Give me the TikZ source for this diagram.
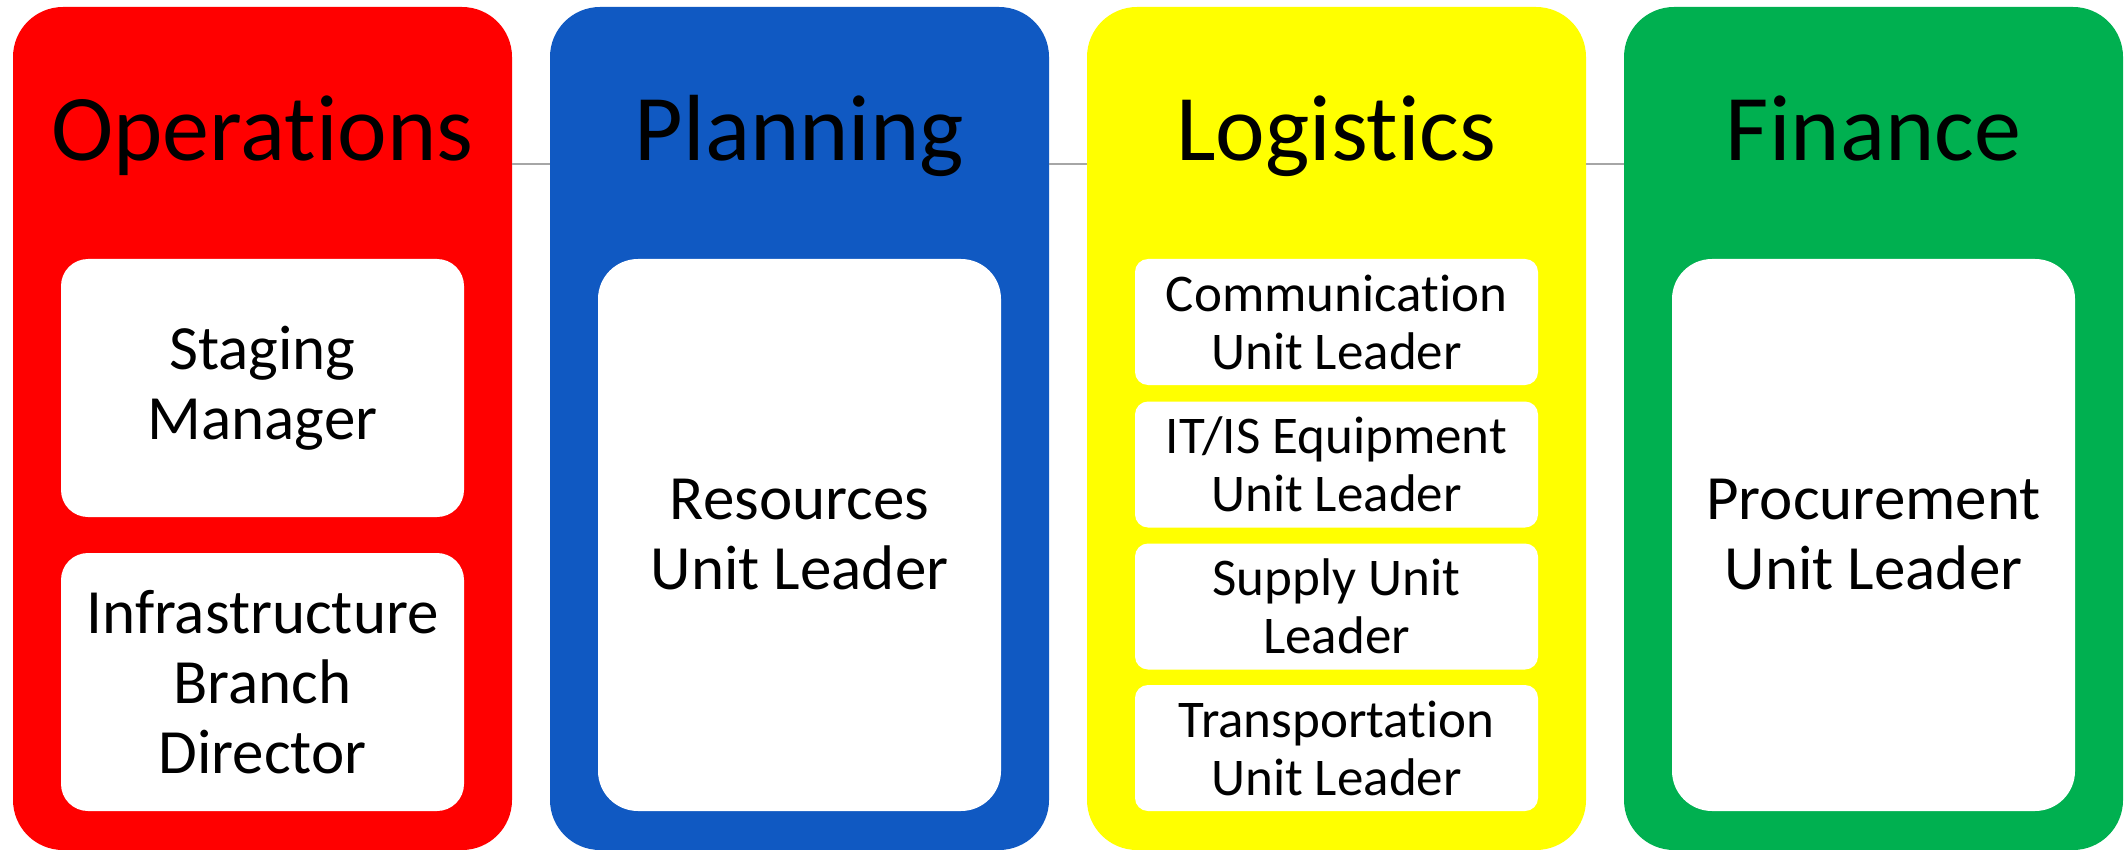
\documentclass[tikz,border=0pt]{standalone}
\usepackage{fontspec}
\setmainfont{Carlito}[Ligatures={NoCommon,NoRequired,NoContextual,NoRare}]
\usetikzlibrary{positioning}

\definecolor{opsred}{RGB}{255,0,0}
\definecolor{planblue}{RGB}{16,89,194}
\definecolor{logyellow}{RGB}{255,255,0}
\definecolor{fingreen}{RGB}{0,176,80}
\definecolor{linkgray}{RGB}{166,166,166}

\tikzset{
  section/.style={rectangle, rounded corners=25pt, minimum width=249.5pt,
    minimum height=421.5pt, inner sep=0pt},
  heading/.style={anchor=base, font=\fontsize{47}{50}\selectfont},
  unit/.style={rectangle, fill=white, align=center, minimum width=201.5pt,
    inner sep=0pt},
  bigunit/.style={unit, font=\fontsize{31.5}{35}\selectfont},
  smallunit/.style={unit, rounded corners=6.5pt, minimum height=63pt,
    font=\fontsize{26.5}{29}\selectfont},
  link/.style={draw=linkgray, line width=1pt}
}

\begin{document}
\begin{tikzpicture}[x=0.5pt, y=-0.5pt]
\useasboundingbox (0,0) rectangle (2124,850);

% sections
\node [section, fill=opsred] (ops) at (262.5,428.5) {};
\node [section, fill=planblue] (plan) at (799.5,428.5) {};
\node [section, fill=logyellow] (log) at (1336.5,428.5) {};
\node [section, fill=fingreen] (fin) at (1873.5,428.5) {};

% headings
\node [heading] (opsHead) at (262.5,161) {Operations};
\node [heading] (planHead) at (799.5,161) {Planning};
\node [heading] (logHead) at (1336.5,161) {Logistics};
\node [heading] (finHead) at (1873.5,161) {Finance};

% links between sections
\coordinate (bar) at (0,164);
\draw [link] (ops.east |- bar) -- (plan.west |- bar);
\draw [link] (plan.east |- bar) -- (log.west |- bar);
\draw [link] (log.east |- bar) -- (fin.west |- bar);

% operations
\node [bigunit, rounded corners=13.5pt, minimum height=129pt] (staging)
  at (262.5,388) {Staging\\Manager};
\node [bigunit, rounded corners=13.5pt, minimum height=129pt] (infra)
  at (262.5,682) {Infrastructure\\Branch\\Director};

% planning
\node [bigunit, rounded corners=20pt, minimum height=276pt] (resources)
  at (799.5,535) {Resources\\Unit Leader};

% logistics
\node [smallunit] (comm) at (1336.5,322) {Communication\\Unit Leader};
\node [smallunit] (itis) at (1336.5,464.5) {IT/IS Equipment\\Unit Leader};
\node [smallunit] (supply) at (1336.5,606.5) {Supply Unit\\Leader};
\node [smallunit] (transport) at (1336.5,748) {Transportation\\Unit Leader};

% finance
\node [bigunit, rounded corners=20pt, minimum height=276pt] (procure)
  at (1873.5,535) {Procurement\\Unit Leader};
\end{tikzpicture}
\end{document}
